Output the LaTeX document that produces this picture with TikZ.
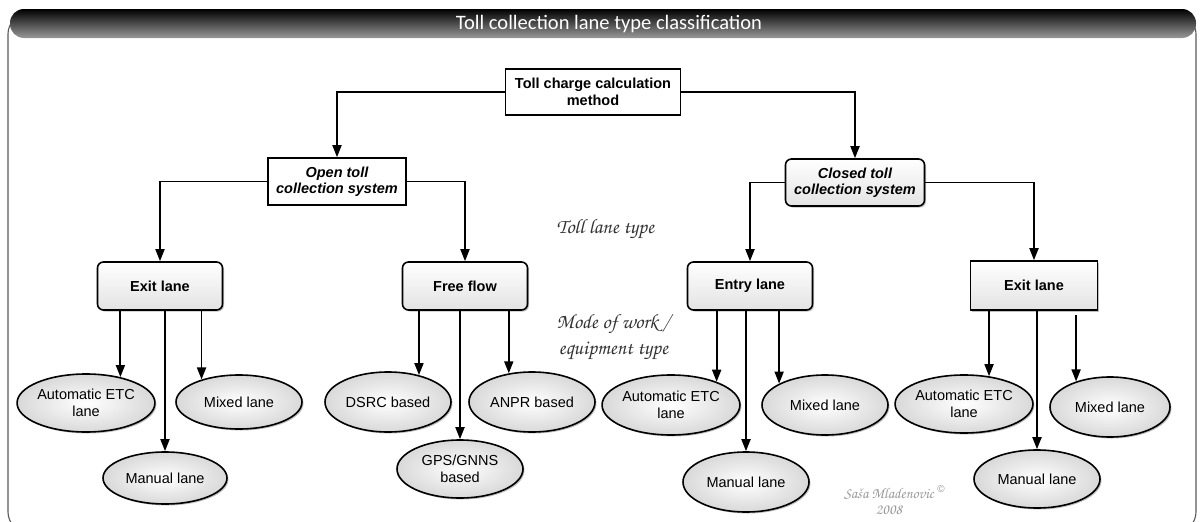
\documentclass[tikz,border=0pt]{standalone}
\usepackage[T1]{fontenc}
\usepackage{fontspec}
\setmainfont{Liberation Sans}
\newfontfamily\titlefont{Carlito}
\usetikzlibrary{arrows.meta,shapes.geometric,shadows,calc}
% calligraphic face for the side notes and the signature
\IfFontExistsTF{texgyrechorus-mediumitalic.otf}
  {\newfontfamily\chancery{texgyrechorus-mediumitalic.otf}}
  {\newcommand\chancery{\fontencoding{T1}\fontfamily{pzc}\fontseries{m}\fontshape{it}\selectfont}}

\begin{document}
\begin{tikzpicture}[x=1pt,y=-1pt,
  txt/.style={font=\fontsize{14.5}{16.5}\selectfont},
  conn/.style={line width=1.8pt, -{Triangle[length=12pt,width=9pt]}},
  softshadow/.style={drop shadow={shadow xshift=1.5pt, shadow yshift=-1.5pt, opacity=.25, fill=black}},
  plainbox/.style={draw, line width=1.6pt, fill=white, inner sep=0pt, align=center,
    font=\bfseries\fontsize{14.5}{16.5}\selectfont},
  gradbox/.style={plainbox, top color=white, bottom color=gray!22, softshadow},
  roundbox/.style={gradbox, rounded corners=6pt},
  oval/.style={ellipse, draw, line width=1.6pt, inner sep=0pt, align=center,
    inner color=white, outer color=gray!30, softshadow, txt},
  note/.style={anchor=base west, font=\chancery\fontsize{20.5}{24}\selectfont, text=black!80},
]
\useasboundingbox (0,0) rectangle (1203,522);

% outer frame and title bar
\draw[black!65, line width=1.1pt, rounded corners=20pt] (8,14) rectangle (1196,532);
\shade[top color=black, middle color=black!92, bottom color=black!40, rounded corners=14pt]
  (10,9) rectangle (1196,38);
\node[font=\titlefont\fontsize{20.5}{22}\selectfont, text=white] (title) at (609,24)
  {Toll collection lane type classification};

% upper levels
\node[plainbox, minimum width=175pt, minimum height=46pt] (root) at (593,92)
  {Toll charge calculation\\method};
\node[plainbox, font=\bfseries\itshape\fontsize{14.5}{16.5}\selectfont,
  minimum width=138pt, minimum height=47pt] (open) at (337,181.5)
  {Open toll\\collection system};
\node[roundbox, font=\bfseries\itshape\fontsize{14.5}{16.5}\selectfont,
  minimum width=139pt, minimum height=47pt] (closed) at (855,182.5)
  {Closed toll\\collection system};

% lane types
\node[roundbox, minimum width=125pt, minimum height=48pt] (exitL) at (160,286) {Exit lane};
\node[roundbox, minimum width=125pt, minimum height=48pt] (free) at (465,286) {Free flow};
\node[roundbox, minimum width=125pt, minimum height=48pt] (entry) at (750,286) {Entry lane};
\node[gradbox, minimum width=127pt, minimum height=49pt] (exitR) at (1034,285.5) {Exit lane};

% modes of work
\node[oval, minimum width=128pt, minimum height=58pt] (autoL) at (86,403) {Automatic ETC\\lane};
\node[oval, minimum width=126pt, minimum height=54pt] (mixL) at (239,402) {Mixed lane};
\node[oval, minimum width=124pt, minimum height=52pt] (manL) at (165,478) {Manual lane};

\node[oval, minimum width=126pt, minimum height=60pt] (dsrc) at (388,402) {DSRC based};
\node[oval, minimum width=126pt, minimum height=60pt] (anpr) at (532,402) {ANPR based};
\node[oval, minimum width=126pt, minimum height=58pt] (gps) at (460,469) {GPS/GNNS\\based};

\node[oval, minimum width=120pt, minimum height=60pt] (autoE) at (671,405) {Automatic ETC\\lane};
\node[oval, minimum width=126pt, minimum height=60pt] (mixE) at (825,405) {Mixed lane};
\node[oval, minimum width=126pt, minimum height=60pt] (manE) at (746,482) {Manual lane};

\node[oval, minimum width=122pt, minimum height=58pt] (autoR) at (964,404) {Automatic ETC\\lane};
\node[oval, minimum width=120pt, minimum height=60pt] (mixR) at (1110,407) {Mixed lane};
\node[oval, minimum width=126pt, minimum height=58pt] (manR) at (1037,479) {Manual lane};

% side notes
\node[note] (lanetype) at (553,233) {Toll lane type};
\node[note] (mode) at (553,328) {Mode of work /};
\node[note] (equip) at (555,354) {equipment type};

% signature
\node[font=\chancery\fontsize{15}{16}\selectfont, text=black!40, align=center] (sig) at (889,502)
  {Sa\v{s}a Mladenovic\\2008};
\node[font=\fontsize{10}{12}\selectfont, text=black!40] (copy) at (941,489) {©};

% connectors
\draw[conn] (root.west) -| (open.north);
\draw[conn] (root.east) -| (closed.north);
\draw[conn] (open.west) -| (exitL.north);
\draw[conn] (open.east) -| (free.north);
\draw[conn] (closed.west) -| (entry.north);
\draw[conn] (closed.east) -| (exitR.north);

\draw[conn] (exitL.south -| autoL.37) -- (autoL.37);
\draw[conn] (exitL.south -| manL.north) -- (manL.north);
\draw[conn] (exitL.south -| mixL.149) -- (mixL.149);

\draw[conn] (free.south -| dsrc.41) -- (dsrc.41);
\draw[conn] (free.south -| gps.north) -- (gps.north);
\draw[conn] (free.south -| anpr.129.5) -- (anpr.129.5);

\draw[conn] (entry.south -| autoE.27) -- (autoE.27);
\draw[conn] (entry.south -| manE.north) -- (manE.north);
\draw[conn] (entry.south -| mixE.155) -- (mixE.155);

\draw[conn] (exitR.south -| autoR.48) -- (autoR.48);
\draw[conn] (exitR.south -| manR.north) -- (manR.north);
\draw[conn] ([yshift=-4pt]exitR.south -| mixR.143) -- (mixR.143);
\end{tikzpicture}
\end{document}
